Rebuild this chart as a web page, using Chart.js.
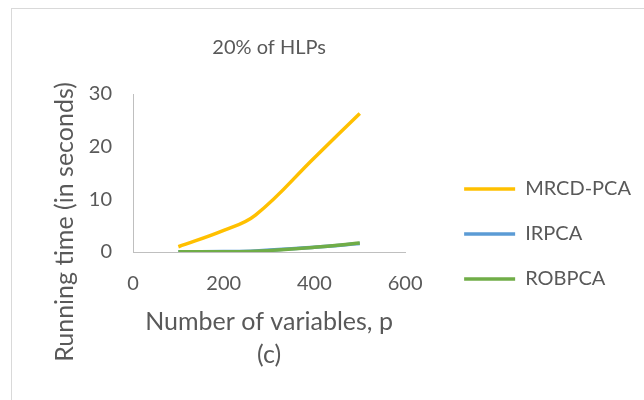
<!DOCTYPE html>
<html>
<head>
<meta charset="utf-8">
<script src="https://cdn.jsdelivr.net/npm/chart.js@4.4.0/dist/chart.umd.min.js"></script>
<style>
  body { margin: 0; background: #fff; }
  #frame { position: absolute; left: 11px; top: 8px; width: 700px; height: 500px; border: 1px solid #d9d9d9; }
  #wrap { position: absolute; left: 0; top: 0; width: 644px; height: 400px; }
</style>
</head>
<body>
<div id="frame"></div>
<div id="wrap"><canvas id="chart" width="644" height="400"></canvas></div>
<script>
const pValues = [100, 200, 270, 400, 500];
const mrcdPca = [1.0, 4.1, 7.0, 17.9, 26.3];
const irpca = [0.05, 0.1, 0.2, 0.9, 1.6];
const robpca = [0.05, 0.05, 0.15, 0.9, 1.7];
const xTicks = [0, 200, 400, 600];
const yTicks = [0, 10, 20, 30];

const textColor = "#595959";
const font = "Lato";
const yTitleText = "Running time (in seconds)";

function points(ys) {
  return pValues.map((p, i) => ({ x: p, y: ys[i] }));
}

// titre vertical décalé vers le bas comme dans Excel
const yTitle = {
  id: "yTitle",
  afterDraw(chart) {
    const { ctx, chartArea } = chart;
    ctx.save();
    ctx.translate(chartArea.left - 68, chartArea.bottom - 30);
    ctx.rotate(-Math.PI / 2);
    ctx.font = "25px " + font;
    ctx.fillStyle = textColor;
    ctx.textAlign = "center";
    ctx.textBaseline = "middle";
    ctx.fillText(yTitleText, 0, 0);
    ctx.restore();
  },
};

const data = {
  datasets: [
    { label: "MRCD-PCA", data: points(mrcdPca), borderColor: "#FFC000", order: 0 },
    { label: "IRPCA", data: points(irpca), borderColor: "#5B9BD5", order: 2 },
    { label: "ROBPCA", data: points(robpca), borderColor: "#70AD47", order: 1 },
  ].map((d) => ({ ...d, showLine: true, pointRadius: 0, borderWidth: 3.5, tension: 0.4, fill: false })),
};

const config = {
  type: "scatter",
  data: data,
  plugins: [yTitle],
  options: {
    responsive: false,
    animation: false,
    layout: { padding: { left: 83, top: 0, right: 3, bottom: 29 } },
    scales: {
      x: {
        type: "linear",
        min: 0,
        max: 600,
        afterBuildTicks: (s) => { s.ticks = xTicks.map((v) => ({ value: v })); },
        afterFit: (s) => { s.height = 119; },
        grid: { display: false, drawTicks: false },
        border: { color: "#bfbfbf", width: 1 },
        ticks: { color: textColor, font: { family: font, size: 20 }, padding: 20 },
        title: {
          display: true,
          text: ["Number of variables, p", "(c)"],
          color: textColor,
          font: { family: font, size: 25, lineHeight: 1.3 },
          padding: { top: 0, bottom: 0 },
        },
      },
      y: {
        type: "linear",
        min: 0,
        max: 30,
        afterBuildTicks: (s) => { s.ticks = yTicks.map((v) => ({ value: v })); },
        afterFit: (s) => { s.width = 50; },
        grid: { display: false, drawTicks: false },
        border: { color: "#bfbfbf", width: 1 },
        ticks: { color: textColor, font: { family: font, size: 20 }, padding: 21 },
      },
      gap: {
        type: "linear",
        position: "right",
        grid: { display: false, drawTicks: false },
        border: { display: false },
        ticks: { display: false },
        afterFit: (s) => { s.width = 34; },
      },
    },
    plugins: {
      title: {
        display: true,
        text: "20% of HLPs",
        fullSize: false,
        color: textColor,
        font: { family: font, size: 20, weight: "normal", lineHeight: 1.2 },
        padding: { top: 36, bottom: 34 },
      },
      legend: {
        position: "right",
        maxWidth: 260,
        title: { display: true, text: " ", font: { size: 20, lineHeight: 1.2 }, padding: { top: 73, bottom: 0 } },
        labels: {
          color: textColor,
          font: { family: font, size: 20 },
          usePointStyle: true,
          pointStyle: "line",
          pointStyleWidth: 51,
          padding: 25,
          sort: (a, b) => a.datasetIndex - b.datasetIndex,
        },
      },
      tooltip: { enabled: false },
    },
  },
};

new Chart(document.getElementById("chart"), config);
</script>
</body>
</html>
